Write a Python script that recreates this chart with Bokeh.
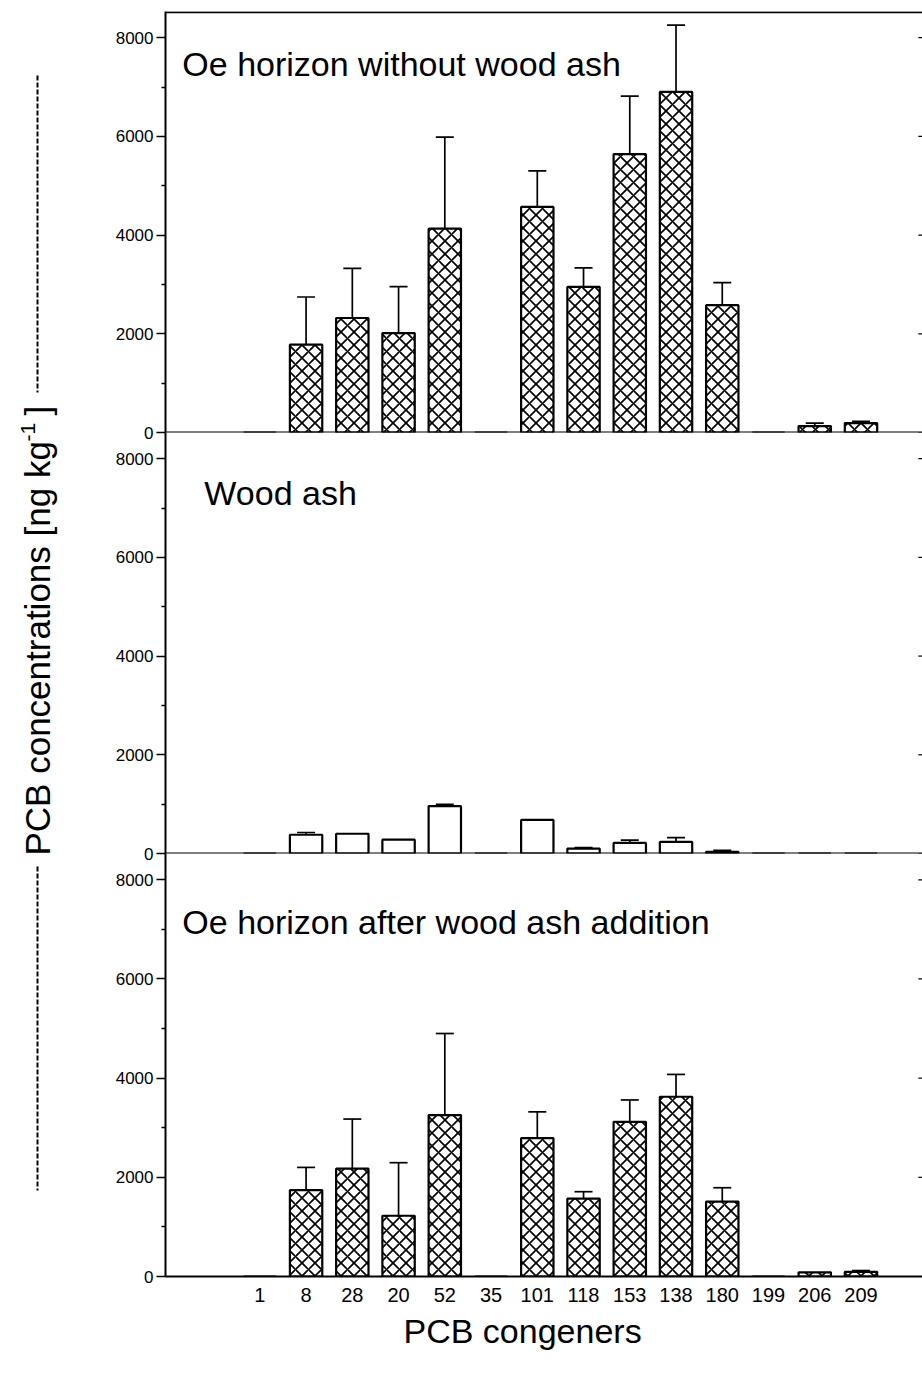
import math
from bokeh.plotting import figure
from bokeh.layouts import row, column
from bokeh.models import (Range1d, ColumnDataSource, Whisker, TeeHead, FixedTicker,
                          Label, Span, LinearAxis, Title)
from bokeh.embed import file_html
from bokeh.resources import INLINE

# ---------------- data ----------------
congeners = ["1", "8", "28", "20", "52", "35", "101", "118", "153", "138", "180", "199", "206", "209"]

oe_mean  = [0, 1780, 2320, 2015, 4130, 0, 4570, 2950, 5640, 6900, 2580, 0, 130, 190]
oe_upper = [0, 2745, 3325, 2955, 5985, 0, 5300, 3335, 6815, 8255, 3035, 0, 190, 225]

ash_mean  = [0, 380, 400, 280, 960, 0, 680, 100, 215, 235, 35, 0, 0, 0]
ash_upper = [0, 425, 400, 280, 995, 0, 680, 120, 270, 320, 65, 0, 0, 0]

after_mean  = [0, 1740, 2175, 1225, 3255, 0, 2790, 1570, 3120, 3625, 1510, 0, 85, 95]
after_upper = [0, 2200, 3175, 2295, 4900, 0, 3320, 1710, 3560, 4075, 1790, 0, 85, 120]

y_ticks = [0, 2000, 4000, 6000, 8000]
y_minor = [1000, 3000, 5000, 7000]

titles = ["Oe horizon without wood ash", "Wood ash", "Oe horizon after wood ash addition"]
y_title = "PCB concentrations [ng kg"
x_title = "PCB congeners"

FONT = "Liberation Sans"
x_idx = list(range(len(congeners)))
X_END = 14.33
x_range = Range1d(-2.04, X_END)
Y_END = 8530
OV = 12  # overlap so that edge tick labels are not cut


def make_panel(mean, upper, hatched, title, tx, ty, height, btop, bbottom, top_margin):
    p = figure(width=822, height=height, x_range=x_range, y_range=Range1d(0, Y_END),
               output_backend="svg", toolbar_location=None,
               x_axis_location=None, y_axis_location="left",
               min_border_left=65, min_border_right=0,
               min_border_top=btop, min_border_bottom=bbottom)
    p.margin = (top_margin, 0, 0, 0)
    p.outline_line_color = None
    p.grid.visible = False
    p.background_fill_color = None
    p.border_fill_color = None

    ya = p.yaxis[0]
    ya.ticker = FixedTicker(ticks=y_ticks, minor_ticks=y_minor)
    ya.axis_line_width = 2
    ya.major_tick_out = 9
    ya.major_tick_in = 0
    ya.minor_tick_out = 4
    ya.minor_tick_in = 0
    ya.major_tick_line_width = 1.5
    ya.minor_tick_line_width = 1.5
    ya.major_label_standoff = 3
    ya.major_label_text_font = FONT
    ya.major_label_text_font_size = "17px"
    ya.major_label_text_color = "black"

    # small ticks at the right edge (right axis is cut off in the original)
    p.segment(x0=[X_END - 0.09] * len(y_ticks), x1=[X_END] * len(y_ticks),
              y0=y_ticks, y1=y_ticks, line_color="black", line_width=1.2)

    src = ColumnDataSource(dict(x=x_idx, top=mean))
    kw = dict(x="x", top="top", bottom=0, width=0.7, source=src,
              fill_color="white", line_color="black", line_width=2.2)
    if hatched:
        kw.update(hatch_pattern="diagonal_cross", hatch_color="black",
                  hatch_scale=13, hatch_weight=1.7)
    p.vbar(**kw)

    ix = [i for i in x_idx if upper[i] > mean[i]]
    wsrc = ColumnDataSource(dict(x=ix, lower=[mean[i] for i in ix], upper=[upper[i] for i in ix]))
    w = Whisker(source=wsrc, base="x", lower="lower", upper="upper", dimension="height",
                line_color="black", line_width=1.7,
                upper_head=TeeHead(size=18, line_width=1.7, line_color="black"),
                lower_head=None)
    p.add_layout(w)

    p.add_layout(Label(x=tx, y=ty, text=title, text_font=FONT, text_font_size="34px",
                       text_color="black", text_baseline="alphabetic", text_align="left"))
    return p


p1 = make_panel(oe_mean, oe_upper, True, titles[0], -1.676, 7460, 432 + OV, 11, OV, 0)
p1.add_layout(Span(location=8515, dimension="width", line_color="black", line_width=2))
p1.add_layout(Span(location=0, dimension="width", line_color="black", line_width=2))

p2 = make_panel(ash_mean, ash_upper, False, titles[1], -1.2, 7310, 421 + OV, 0, OV, -OV)
p2.add_layout(Span(location=0, dimension="width", line_color="black", line_width=2))

p3 = make_panel(after_mean, after_upper, True, titles[2], -1.676, 7150, 528, 0, 105, -OV)
xa = LinearAxis(ticker=FixedTicker(ticks=x_idx, minor_ticks=[]),
                major_label_overrides={i: c for i, c in enumerate(congeners)})
xa.axis_line_width = 2
xa.major_tick_out = 0
xa.major_tick_in = 0
xa.minor_tick_out = 0
xa.major_label_standoff = 11
xa.major_label_text_font = FONT
xa.major_label_text_font_size = "20px"
xa.major_label_text_color = "black"
p3.add_layout(xa, "below")
p3.add_layout(Title(text=x_title, align="left", offset=238, standoff=11,
                    text_font=FONT, text_font_size="34px", text_font_style="normal",
                    text_color="black"), "below")

# left column with the shared y-axis title
left = figure(width=100, height=1381, x_range=Range1d(0, 100), y_range=Range1d(1381, 0),
              output_backend="svg", toolbar_location=None,
              x_axis_location=None, y_axis_location=None, min_border=0)
left.outline_line_color = None
left.grid.visible = False
left.segment(x0=[37, 37], y0=[75, 866], x1=[37, 37], y1=[392, 1190],
             line_color="black", line_width=2, line_dash="5 2")
left.add_layout(Label(x=37, y=855, text=y_title, angle=math.pi / 2, text_font=FONT,
                      text_font_size="35px", text_color="black",
                      text_align="left", text_baseline="middle"))
left.add_layout(Label(x=27, y=441, text="-1", angle=math.pi / 2, text_font=FONT,
                      text_font_size="21px", text_color="black",
                      text_align="left", text_baseline="middle"))
left.add_layout(Label(x=37, y=415, text="]", angle=math.pi / 2, text_font=FONT,
                      text_font_size="35px", text_color="black",
                      text_align="left", text_baseline="middle"))

layout = row(left, column(p1, p2, p3, spacing=0), spacing=0)

with open("out.html", "w") as f:
    f.write(file_html(layout, INLINE))
